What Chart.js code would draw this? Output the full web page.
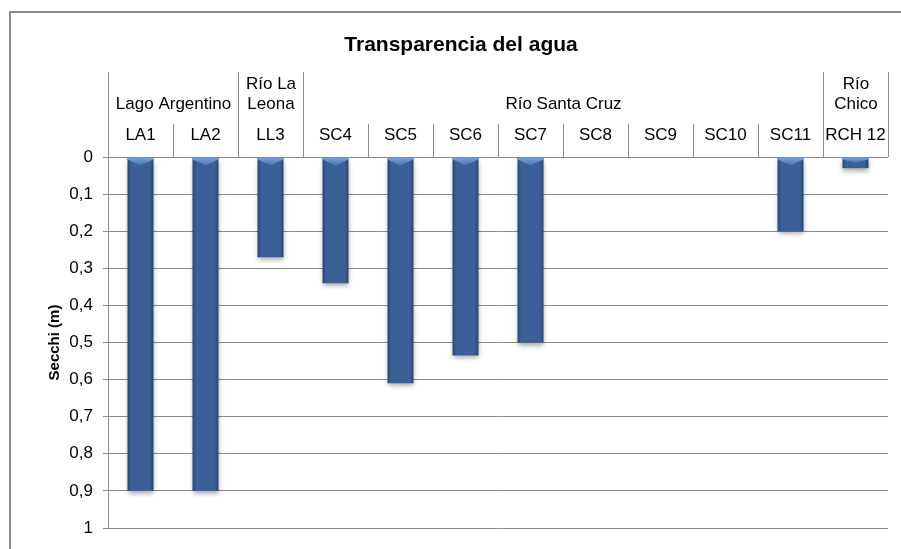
<!DOCTYPE html>
<html>
<head>
<meta charset="utf-8">
<script src="https://cdn.jsdelivr.net/npm/chart.js@4"></script>
<style>
  html, body { margin: 0; padding: 0; background: #fff; }
</style>
</head>
<body>
<canvas id="secchiChart" width="901" height="549"></canvas>
<script>
// Datos: transparencia (disco de Secchi) por estación
const chartTitle = 'Transparencia del agua';
const stations = ['LA1', 'LA2', 'LL3', 'SC4', 'SC5', 'SC6', 'SC7', 'SC8', 'SC9', 'SC10', 'SC11', 'RCH 12'];
const secchiValues = [0.9, 0.9, 0.27, 0.34, 0.61, 0.535, 0.5, 0, 0, 0, 0.2, 0.03];
const groupNames = [['Lago Argentino'], ['Río La', 'Leona'], ['Río Santa Cruz'], ['Río', 'Chico']];
const groupStarts = [0, 2, 3, 11];
const groupEnds = [1, 2, 10, 11];
const yTickLabels = ['0', '0,1', '0,2', '0,3', '0,4', '0,5', '0,6', '0,7', '0,8', '0,9', '1'];

const lineGray = '#8a8a8a';
const fontFamily = "'Liberation Sans', Arial, sans-serif";
Chart.defaults.font.family = fontFamily;
Chart.defaults.color = '#000';

// Horizontal gradient so the bars look like the Excel bevel style
function barFill(c) {
    const xs = c.chart.scales.x;
    if (!xs || c.dataIndex === undefined) return '#3a6096';
    const cx = xs.getPixelForValue(c.dataIndex);
    const half = xs.width / stations.length * 0.4 / 2;
    if (!Number.isFinite(cx) || !Number.isFinite(half) || half <= 0) return '#3a6096';
    const g = c.chart.ctx.createLinearGradient(cx - half, 0, cx + half, 0);
    g.addColorStop(0, '#284672');
    g.addColorStop(0.14, '#3a6097');
    g.addColorStop(0.86, '#3a6097');
    g.addColorStop(1, '#274470');
    return g;
}

// Outer frame of the chart (left and top edges visible) and title
const framePlugin = {
    id: 'frame',
    beforeDraw(chart) {
        const ctx = chart.ctx;
        ctx.save();
        ctx.strokeStyle = lineGray;
        ctx.lineWidth = 2;
        ctx.beginPath();
        ctx.moveTo(10, chart.height);
        ctx.lineTo(10, 12);
        ctx.lineTo(chart.width, 12);
        ctx.stroke();

        ctx.fillStyle = '#000';
        ctx.font = 'bold 21px ' + fontFamily;
        ctx.textAlign = 'center';
        ctx.textBaseline = 'middle';
        ctx.fillText(chartTitle, 461, 45);
        ctx.restore();
    }
};

// Shadow under bars and top bevel highlight
const barStylePlugin = {
    id: 'barStyle',
    beforeDatasetsDraw(chart) {
        const ctx = chart.ctx;
        ctx.save();
        ctx.shadowColor = 'rgba(0,0,0,0.35)';
        ctx.shadowBlur = 5;
        ctx.shadowOffsetX = 0;
        ctx.shadowOffsetY = 3;
    },
    afterDatasetsDraw(chart) {
        const ctx = chart.ctx;
        ctx.restore();
        ctx.save();
        chart.getDatasetMeta(0).data.forEach(bar => {
            const p = bar.getProps(['x', 'y', 'base', 'width'], true);
            if (Math.abs(p.y - p.base) < 2) return;
            const top = Math.min(p.y, p.base);
            const l = p.x - p.width / 2, r = p.x + p.width / 2;
            const depth = Math.min(8, Math.abs(p.y - p.base) / 2);
            const g = ctx.createLinearGradient(0, top, 0, top + depth);
            g.addColorStop(0, '#79a4dc');
            g.addColorStop(1, '#4a73ab');
            ctx.fillStyle = g;
            ctx.beginPath();
            ctx.moveTo(l, top);
            ctx.lineTo(r, top);
            ctx.lineTo(r, top + 2);
            ctx.lineTo(p.x, top + depth);
            ctx.lineTo(l, top + 2);
            ctx.closePath();
            ctx.fill();
        });
        ctx.restore();
    }
};

// Second level of category labels (river / lake groups) with dividers
const groupPlugin = {
    id: 'groups',
    afterDraw(chart) {
        const ctx = chart.ctx;
        const xs = chart.scales.x;
        const top = chart.chartArea.top;
        const catW = xs.width / stations.length;
        ctx.save();
        ctx.strokeStyle = lineGray;
        ctx.lineWidth = 1;
        ctx.fillStyle = '#000';
        ctx.font = '17px ' + fontFamily;
        ctx.textAlign = 'center';
        ctx.textBaseline = 'middle';
        groupNames.forEach((lines, gi) => {
            const left = Math.round(xs.getPixelForValue(groupStarts[gi]) - catW / 2) + 0.5;
            const right = Math.round(xs.getPixelForValue(groupEnds[gi]) + catW / 2) + 0.5;
            ctx.beginPath();
            ctx.moveTo(left, 72);
            ctx.lineTo(left, top);
            ctx.moveTo(right, 72);
            ctx.lineTo(right, top);
            for (let i = groupStarts[gi] + 1; i <= groupEnds[gi]; i++) {
                const x = Math.round(xs.getPixelForValue(i) - catW / 2) + 0.5;
                ctx.moveTo(x, 124);
                ctx.lineTo(x, top);
            }
            ctx.stroke();
            const cx = (left + right) / 2;
            lines.forEach((txt, li) => {
                ctx.fillText(txt, cx, 104 - (lines.length - 1 - li) * 20);
            });
        });
        ctx.restore();
    }
};

const ctx = document.getElementById('secchiChart').getContext('2d');
new Chart(ctx, {
    type: 'bar',
    data: {
        labels: stations,
        datasets: [{
            label: 'Secchi (m)',
            data: secchiValues,
            backgroundColor: barFill,
            borderWidth: 0,
            barPercentage: 0.4,
            categoryPercentage: 1
        }]
    },
    options: {
        responsive: false,
        animation: false,
        devicePixelRatio: 1,
        layout: { padding: { left: 0, right: 13, top: 0, bottom: 21 } },
        plugins: {
            legend: { display: false },
            title: { display: false },
            tooltip: { enabled: false }
        },
        scales: {
            x: {
                position: 'top',
                offset: true,
                grid: { display: false, drawTicks: false },
                border: { display: false },
                ticks: {
                    font: { size: 17 },
                    color: '#000',
                    padding: 11,
                    maxRotation: 0,
                    autoSkip: false
                },
                afterFit: function(scale) { scale.height = 157; }
            },
            y: {
                reverse: true,
                min: 0,
                max: 1,
                ticks: {
                    stepSize: 0.1,
                    font: { size: 17 },
                    color: '#000',
                    padding: 10,
                    callback: function(v) { return yTickLabels[Math.round(v * 10)]; }
                },
                grid: { color: lineGray, tickLength: 5 },
                border: { color: lineGray },
                title: {
                    display: true,
                    text: 'Secchi (m)',
                    color: '#000',
                    font: { size: 15, weight: 'bold' },
                    padding: { top: 46, bottom: 0 }
                },
                afterFit: function(scale) { scale.width = 108; }
            }
        }
    },
    plugins: [framePlugin, barStylePlugin, groupPlugin]
});
</script>
</body>
</html>
